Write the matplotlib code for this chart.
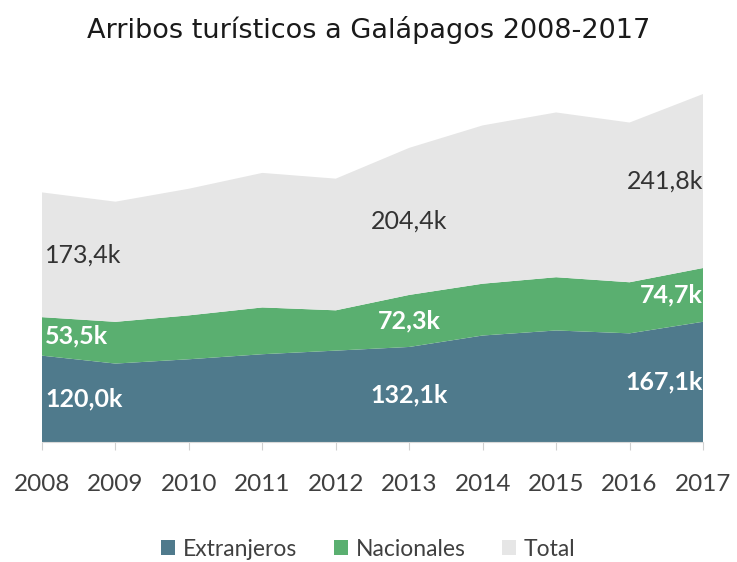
import numpy as np
import matplotlib
matplotlib.use("Agg")
import matplotlib.pyplot as plt
from matplotlib.patches import Patch

# Tourist arrivals (thousands)
years = [2008, 2009, 2010, 2011, 2012, 2013, 2014, 2015, 2016, 2017]
extranjeros = [120.0, 109, 115, 122, 127, 132.1, 148, 155, 151, 167.1]
nacionales = [53.5, 58, 61, 65, 56, 72.3, 72, 74, 71, 74.7]
total = [173.4, 167, 176, 187, 183, 204.4, 220, 229, 222, 241.8]

series_names = ["Extranjeros", "Nacionales", "Total"]
colors = ["#4f7a8c", "#5aaf70", "#e6e6e6"]
label_colors = ["white", "white", "#333333"]
label_idx = [0, 5, 9]

plt.rcParams['font.family'] = ['Lato', 'DejaVu Sans']

fig = plt.figure(figsize=(7.37, 5.62), dpi=100)
ax = fig.add_axes([42 / 737, 1 - 442 / 562, (703 - 42) / 737, (442 - 70) / 562])

x = np.arange(len(years))
layers = [np.array(extranjeros), np.array(nacionales), np.array(total)]
ax.stackplot(x, *layers, colors=colors, linewidth=0)

# data labels centred vertically within each band
base = np.zeros(len(years))
for vals, col in zip(layers, label_colors):
    for i in label_idx:
        ymid = base[i] + vals[i] / 2
        ha = "left" if i == 0 else ("right" if i == len(years) - 1 else "center")
        xo = 0.04 if i == 0 else 0
        txt = f"{vals[i]:.1f}k".replace(".", ",")
        ax.text(x[i] + xo, ymid, txt, ha=ha, va="center", fontsize=18,
                color=col, fontweight="bold" if col == "white" else "normal")
    base = base + vals

ax.set_xlim(0, len(years) - 1)
ax.set_ylim(0, 517)
ax.set_xticks(x)
ax.set_xticklabels([str(y) for y in years], fontsize=17.5, color="#404040")
ax.tick_params(axis="x", length=6, color="#d0d0d0", pad=17)
ax.set_yticks([])
for s in ["top", "right", "left"]:
    ax.spines[s].set_visible(False)
ax.spines["bottom"].set_color("#d9d9d9")

fig.text(0.5, 1 - 38 / 562, "Arribos turísticos a Galápagos 2008-2017",
         ha="center", va="baseline", fontsize=19.5, color="#1a1a1a",
         family=['DejaVu Sans'])

handles = [Patch(facecolor=c, edgecolor="none") for c in colors]
fig.legend(handles, series_names, loc="center", bbox_to_anchor=(0.5, 1 - 549 / 562),
           ncol=3, frameon=False, fontsize=16.5, handlelength=0.6, handleheight=0.6,
           handletextpad=0.35, columnspacing=1.6, labelcolor="#404040")

fig.savefig("out.png", dpi=100)
